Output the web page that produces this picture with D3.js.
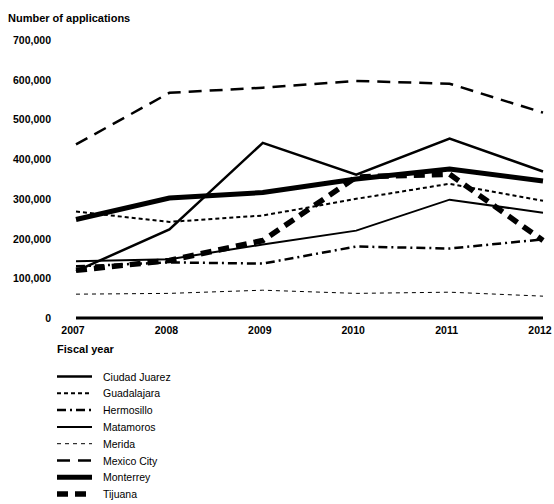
<!DOCTYPE html>
<html><head><meta charset="utf-8">
<script src="https://cdn.jsdelivr.net/npm/d3@7"></script>
<style>body{margin:0;background:#fff}svg{display:block}text{font-family:"Liberation Sans",Arial,sans-serif}</style>
</head><body><svg id="c" width="554" height="504"></svg>
<script>
const years = [2007, 2008, 2009, 2010, 2011, 2012];
const yTicks = [0, 100000, 200000, 300000, 400000, 500000, 600000, 700000];
const cities = ["Ciudad Juarez", "Guadalajara", "Hermosillo", "Matamoros", "Merida", "Mexico City", "Monterrey", "Tijuana"];
const ciudadJuarez = [118000, 223000, 441000, 361000, 452000, 369000];
const guadalajara = [268000, 242000, 258000, 300000, 338000, 295000];
const hermosillo = [130000, 140000, 137000, 180000, 175000, 198000];
const matamoros = [143000, 148000, 185000, 220000, 298000, 265000];
const merida = [60000, 62000, 70000, 62000, 65000, 55000];
const mexicoCity = [437000, 567000, 580000, 597000, 590000, 517000];
const monterrey = [248000, 302000, 316000, 350000, 375000, 345000];
const tijuana = [120000, 145000, 195000, 355000, 362000, 195000];
const seriesValues = [ciudadJuarez, guadalajara, hermosillo, matamoros, merida, mexicoCity, monterrey, tijuana];

const styles = [
  {w:2.5, dash:null},
  {w:2, dash:"4,3"},
  {w:2.5, dash:"9,4,2,4"},
  {w:2, dash:null},
  {w:1, dash:"4,4"},
  {w:2.5, dash:"13,8"},
  {w:5, dash:null},
  {w:5.5, dash:"11,7"}
];

const svg = d3.select("#c");
const x = d3.scalePoint().domain(years).range([76, 543]);
const y = d3.scaleLinear().domain([0, 700000]).range([318, 40]);

svg.append("text").attr("x", 8).attr("y", 22).attr("font-size", 11).attr("font-weight", "bold").text("Number of applications");

svg.selectAll(".yt").data(yTicks).enter().append("text")
  .attr("x", 51).attr("y", d => y(d) + 4).attr("text-anchor", "end")
  .attr("font-size", 10.5).attr("font-weight", "bold")
  .text(d => d3.format(",")(d));

svg.selectAll(".xt").data(years).enter().append("text")
  .attr("x", d => x(d) - 3).attr("y", 334).attr("text-anchor", "middle")
  .attr("font-size", 10.5).attr("font-weight", "bold").text(d => d);

svg.append("line").attr("x1", x(2007)).attr("x2", x(2012)).attr("y1", y(0)).attr("y2", y(0))
  .attr("stroke", "#000").attr("stroke-width", 3);

const line = d3.line().x((d, i) => x(years[i])).y(d => y(d));
seriesValues.forEach((vals, i) => {
  svg.append("path").attr("d", line(vals)).attr("fill", "none").attr("stroke", "#000")
    .attr("stroke-width", styles[i].w).attr("stroke-dasharray", styles[i].dash);
});

svg.append("text").attr("x", 57).attr("y", 353).attr("font-size", 11).attr("font-weight", "bold").text("Fiscal year");

const lg = svg.selectAll(".lg").data(cities).enter().append("g")
  .attr("transform", (d, i) => `translate(0,${376.5 + i * 16.8})`);
lg.append("line").attr("x1", 57).attr("x2", 92).attr("y1", 0).attr("y2", 0)
  .attr("stroke", "#000").attr("stroke-width", (d, i) => styles[i].w)
  .attr("stroke-dasharray", (d, i) => styles[i].dash);
lg.append("text").attr("x", 103).attr("y", 4).attr("font-size", 10.5).text(d => d);
</script></body></html>
